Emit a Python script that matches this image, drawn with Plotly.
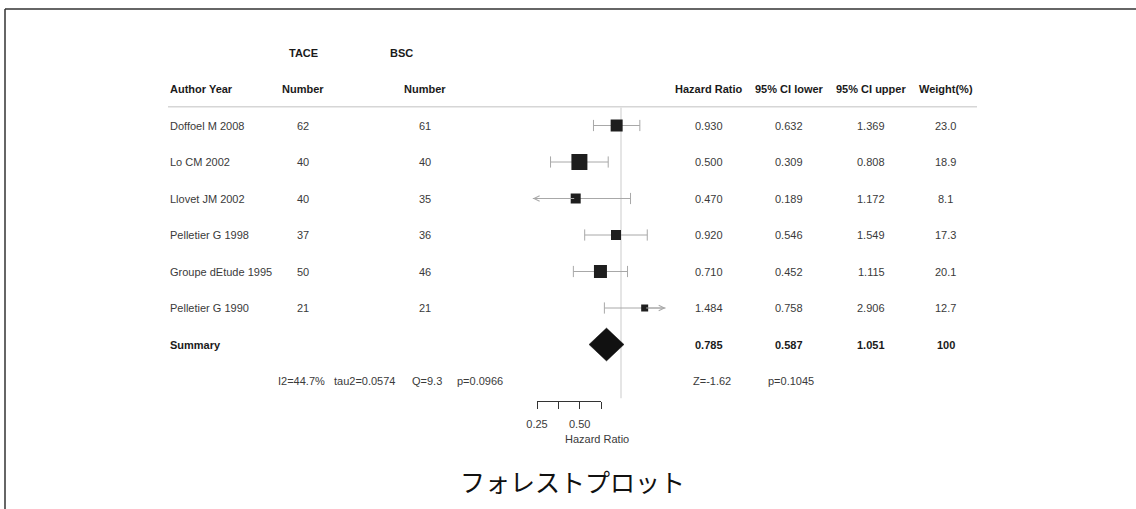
import numpy as np
import plotly.graph_objects as go

# ---------------- data ----------------
studies = ["Doffoel M 2008", "Lo CM 2002", "Llovet JM 2002",
           "Pelletier G 1998", "Groupe dEtude 1995", "Pelletier G 1990"]
tace_n = [62, 40, 40, 37, 50, 21]
bsc_n = [61, 40, 35, 36, 46, 21]
hr = [0.930, 0.500, 0.470, 0.920, 0.710, 1.484]
ci_low = [0.632, 0.309, 0.189, 0.546, 0.452, 0.758]
ci_up = [1.369, 0.808, 1.172, 1.549, 1.115, 2.906]
weight = [23.0, 18.9, 8.1, 17.3, 20.1, 12.7]

summary_label = "Summary"
summary_hr = 0.785
summary_low = 0.587
summary_up = 1.051
summary_weight = "100"

het_stats = ["I2=44.7%", "tau2=0.0574", "Q=9.3", "p=0.0966"]
test_stats = ["Z=-1.62", "p=0.1045"]

tick_vals = [0.25, 0.3536, 0.5, 0.7071]
tick_text = ["0.25", "", "0.50", ""]
axis_title = "Hazard Ratio"
clip_range = (0.23, 2.1)
col_headers = ["Author Year", "Number", "Number", "Hazard Ratio",
               "95% CI lower", "95% CI upper", "Weight(%)"]
group_headers = ["TACE", "BSC"]
chart_title = "フォレストプロット"

# ---------------- style / layout ----------------
W, H = 1136, 509
box_px = [12, 16, 10, 10, 13, 7]
FONT = "Liberation Sans, Arial, sans-serif"
TXT = "#3a3a3a"
BOLD = "#1a1a1a"
GREY = "#a8a8a8"

def px(x):
    return x / W

# row coordinate system: row r sits at pixel 125.5 + 36.5 r
row0, row_h = 125.5, 36.5
y_top = (0 - row0) / row_h
y_bot = (H - row0) / row_h
# x: 60 px per ln unit, HR=1 at pixel 621
k, x1 = 60.0, 621.0
xr = [np.log10(np.exp((0 - x1) / k)), np.log10(np.exp((W - x1) / k))]

n = len(studies)
rows = list(range(n))
sum_row = n
stat_row = n + 1

fig = go.Figure()

# reference line at HR = 1
fig.add_trace(go.Scatter(x=[1, 1], y=[-0.49, stat_row + 0.47], mode="lines",
                         line=dict(color="#d4d4d4", width=1.2),
                         hoverinfo="skip", showlegend=False))

annotations = []
lo_c, hi_c = clip_range
for i in rows:
    lo = max(ci_low[i], lo_c)
    hi = min(ci_up[i], hi_c)
    fig.add_trace(go.Scatter(x=[lo, hi], y=[i, i], mode="lines",
                             line=dict(color=GREY, width=1),
                             hoverinfo="skip", showlegend=False))
    caps = []
    if ci_low[i] >= lo_c:
        caps.append(ci_low[i])
    else:
        annotations.append(dict(x=np.log10(lo_c), y=i, ax=np.log10(hr[i]), ay=i,
                                xref="x", yref="y", axref="x", ayref="y",
                                showarrow=True, arrowhead=5, arrowsize=1.1,
                                arrowwidth=1, arrowcolor=GREY, text=""))
    if ci_up[i] <= hi_c:
        caps.append(ci_up[i])
    else:
        annotations.append(dict(x=np.log10(hi_c), y=i, ax=np.log10(hr[i]), ay=i,
                                xref="x", yref="y", axref="x", ayref="y",
                                showarrow=True, arrowhead=5, arrowsize=1.1,
                                arrowwidth=1, arrowcolor=GREY, text=""))
    fig.add_trace(go.Scatter(x=caps, y=[i] * len(caps), mode="markers",
                             marker=dict(symbol="line-ns", size=8,
                                         line=dict(color=GREY, width=1)),
                             hoverinfo="skip", showlegend=False))

# study boxes
fig.add_trace(go.Scatter(x=hr, y=rows, mode="markers",
                         marker=dict(symbol="square", size=box_px, color="#1e1e1e",
                                     opacity=1, line=dict(width=0)),
                         hoverinfo="skip", showlegend=False))

# summary diamond
dh = 0.45
fig.add_trace(go.Scatter(x=[summary_low, summary_hr, summary_up, summary_hr, summary_low],
                         y=[sum_row, sum_row - dh, sum_row, sum_row + dh, sum_row],
                         mode="lines", fill="toself", fillcolor="#111111",
                         line=dict(color="#111111", width=0.5),
                         hoverinfo="skip", showlegend=False))

# invisible trace for the small tick axis
fig.add_trace(go.Scatter(x=[0.4], y=[stat_row], xaxis="x2", yaxis="y", mode="markers",
                         marker=dict(opacity=0), hoverinfo="skip", showlegend=False))

def txt(x, y, s, bold=False, anchor="center", size=11, color=None):
    annotations.append(dict(x=px(x), y=y, xref="paper", yref="y", text=s,
                            showarrow=False, xanchor=anchor, yanchor="middle",
                            font=dict(family=FONT, size=size,
                                      color=color or (BOLD if bold else TXT),
                                      weight="bold" if bold else "normal")))

cols = [168, 303, 425, 709, 789, 871, 946]
# group headers
txt(303, -2, group_headers[0], bold=True)
txt(401, -2, group_headers[1], bold=True)
# column headers
for j, h in enumerate(col_headers):
    txt(cols[j], -1, h, bold=True, anchor="left" if j == 0 else "center")

for i in rows:
    txt(cols[0], i, studies[i], anchor="left")
    txt(cols[1], i, str(tace_n[i]))
    txt(cols[2], i, str(bsc_n[i]))
    txt(cols[3], i, f"{hr[i]:.3f}")
    txt(cols[4], i, f"{ci_low[i]:.3f}")
    txt(cols[5], i, f"{ci_up[i]:.3f}")
    txt(cols[6], i, f"{weight[i]:.1f}")

txt(cols[0], sum_row, summary_label, bold=True, anchor="left")
txt(cols[3], sum_row, f"{summary_hr:.3f}", bold=True)
txt(cols[4], sum_row, f"{summary_low:.3f}", bold=True)
txt(cols[5], sum_row, f"{summary_up:.3f}", bold=True)
txt(cols[6], sum_row, summary_weight, bold=True)

for xs, s in zip([276, 332, 410, 455], het_stats):
    txt(xs, stat_row, s, anchor="left")
for xs, s in zip([691, 766], test_stats):
    txt(xs, stat_row, s, anchor="left")

# axis title
txt(597, (439 - row0) / row_h, axis_title)

# chart title
annotations.append(dict(x=px(572), y=1 - 481 / H, xref="paper", yref="paper",
                        text=chart_title, showarrow=False, xanchor="center",
                        yanchor="middle",
                        font=dict(family="Noto Sans CJK JP", size=25, color="#111111")))

shapes = [
    # header rule
    dict(type="line", xref="paper", yref="y", x0=px(168), x1=px(977),
         y0=-0.515, y1=-0.515, line=dict(color="#d6d6d6", width=1.5)),
    # frame (top and left)
    dict(type="line", xref="paper", yref="paper", x0=px(5), x1=1.02,
         y0=1 - 9 / H, y1=1 - 9 / H, line=dict(color="#333333", width=1.5)),
    dict(type="line", xref="paper", yref="paper", x0=px(5), x1=px(5),
         y0=1 - 9 / H, y1=-0.02, line=dict(color="#333333", width=1.5)),
]

fig.update_layout(
    width=W, height=H,
    margin=dict(l=0, r=0, t=0, b=0, pad=0, autoexpand=False),
    paper_bgcolor="white", plot_bgcolor="rgba(0,0,0,0)",
    showlegend=False,
    xaxis=dict(type="log", range=xr, visible=False, fixedrange=True),
    yaxis=dict(range=[y_bot, y_top], visible=False, fixedrange=True),
    xaxis2=dict(type="log", domain=[px(537), px(601)],
                range=[np.log10(tick_vals[0]), np.log10(tick_vals[-1])],
                anchor="free", position=1 - 401 / H,
                tickmode="array", tickvals=tick_vals, ticktext=tick_text,
                ticks="outside", ticklen=7, tickwidth=1, tickcolor="#333333",
                showline=True, linecolor="#333333", linewidth=1,
                showgrid=False, zeroline=False, ticklabelstandoff=6,
                tickfont=dict(family=FONT, size=11, color=TXT), fixedrange=True),
    annotations=annotations,
    shapes=shapes,
)

fig.write_html("out.html", config={"displayModeBar": False},
               post_script="document.body.style.margin='0';")
